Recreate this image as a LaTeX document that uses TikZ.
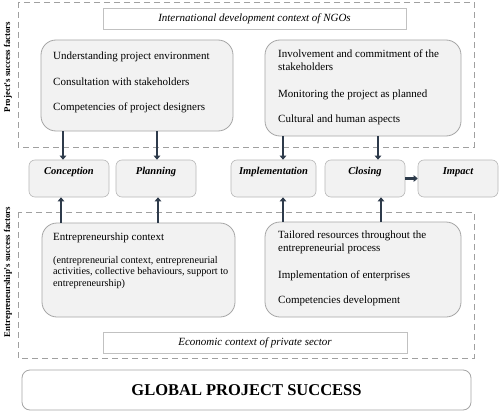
\documentclass[tikz,border=0pt]{standalone}
\usepackage{fontspec}
\setmainfont{Liberation Serif}
\usetikzlibrary{arrows.meta}
\definecolor{boxfill}{HTML}{F2F2F2}
\definecolor{boxline}{HTML}{A6A6A6}
\definecolor{dashline}{HTML}{A0A0A0}
\definecolor{arrowcol}{HTML}{2E3B4B}
\begin{document}
\begin{tikzpicture}[x=1pt,y=-1pt,
  zone/.style={draw=dashline,line width=0.9pt,dash pattern=on 6pt off 4pt},
  titlebox/.style={draw=boxline!70,fill=white,line width=0.6pt,minimum width=#1,minimum height=21pt,inner sep=0pt,font=\fontsize{11}{13}\selectfont\itshape},
  factorbox/.style={draw=boxline,fill=boxfill,rounded corners=15pt,line width=0.8pt,inner sep=0pt},
  phasebox/.style={draw=boxline!80,fill=boxfill,rounded corners=6pt,line width=0.6pt,minimum height=37pt,minimum width=#1,inner sep=0pt},
  phasetext/.style={font=\fontsize{10.5}{12}\selectfont\bfseries\itshape,inner sep=0pt},
  item/.style={anchor=west,inner sep=0pt,font=\fontsize{11}{13}\selectfont,align=left},
  small/.style={anchor=west,inner sep=0pt,font=\fontsize{10.2}{11.7}\selectfont,align=left},
  side/.style={rotate=90,font=\fontsize{8.8}{10}\selectfont\bfseries,inner sep=0pt},
  arr/.style={draw=arrowcol,line width=2.8pt,-{Triangle[length=4pt,width=6.5pt]}}
]
\useasboundingbox[fill=white] (0,0) rectangle (500,412);

% dashed zones
\draw[zone] (18,2) rectangle (474,147);
\draw[zone] (18,212) rectangle (474,358);

% side labels
\node[side] (sideP) at (8,67) {Project's success factors};
\node[side] (sideE) at (8,272) {Entrepreneurship's success factors};

% context title boxes
\node[titlebox=303pt] (ngo) at (254.5,18.5) {International development context of NGOs};
\node[titlebox=304pt] (eco) at (255,342.5) {Economic context of private sector};

% project factor boxes
\node[factorbox,minimum width=192pt,minimum height=91pt] (pl) at (137,85.5) {};
\node[item] (pl1) at (53,57) {Understanding project environment};
\node[item] (pl2) at (53,82) {Consultation with stakeholders};
\node[item] (pl3) at (53,107.5) {Competencies of project designers};

\node[factorbox,minimum width=196pt,minimum height=96pt] (pr) at (363,88) {};
\node[item,anchor=north west] (pr1) at (278,50) {Involvement and commitment of the\\stakeholders};
\node[item] (pr2) at (278,94.5) {Monitoring the project as planned};
\node[item] (pr3) at (278,119.5) {Cultural and human aspects};

% phase boxes
\node[phasebox=80pt] (con) at (69,178.5) {};
\node[phasetext] (conT) at ([yshift=6.5pt]con.center) {Conception};
\node[phasebox=80pt] (pla) at (156,178.5) {};
\node[phasetext] (plaT) at ([yshift=6.5pt]pla.center) {Planning};
\node[phasebox=85pt] (imp) at (273.5,178.5) {};
\node[phasetext] (impT) at ([yshift=6.5pt]imp.center) {Implementation};
\node[phasebox=80pt] (clo) at (365,178.5) {};
\node[phasetext] (cloT) at ([yshift=6.5pt]clo.center) {Closing};
\node[phasebox=80pt] (ipa) at (458,178.5) {};
\node[phasetext] (ipaT) at ([yshift=6.5pt]ipa.center) {Impact};

% entrepreneurship factor boxes
\node[factorbox,minimum width=193pt,minimum height=94pt] (el) at (138.5,270) {};
\node[item] (el1) at (53,237.5) {Entrepreneurship context};
\node[small,anchor=north west] (el2) at (53,256) {(entrepreneurial context, entrepreneurial\\activities, collective behaviours, support to\\entrepreneurship)};

\node[factorbox,minimum width=196pt,minimum height=95pt] (er) at (363,269.5) {};
\node[item,anchor=north west] (er1) at (278,231) {Tailored resources throughout the\\entrepreneurial process};
\node[item] (er2) at (278,275.5) {Implementation of enterprises};
\node[item] (er3) at (278,300.5) {Competencies development};

% global
\node[draw=boxline,fill=white,rounded corners=8pt,line width=0.8pt,minimum width=449pt,minimum height=40pt,inner sep=0pt,font=\fontsize{16.5}{18}\selectfont\bfseries] (glob) at (246.5,390) {GLOBAL PROJECT SUCCESS};

% arrows top -> phases
\draw[arr] (pl.south -| 63,0) -- (con.north -| 63,0);
\draw[arr] (pl.south -| 157,0) -- (pla.north -| 157,0);
\draw[arr] (pr.south -| 283,0) -- (imp.north -| 283,0);
\draw[arr] (pr.south -| 378,0) -- (clo.north -| 378,0);
% arrows bottom -> phases
\draw[arr] (el.north -| 61,0) -- (con.south -| 61,0);
\draw[arr] (el.north -| 158,0) -- (pla.south -| 158,0);
\draw[arr] (er.north -| 283,0) -- (imp.south -| 283,0);
\draw[arr] (er.north -| 381,0) -- (clo.south -| 381,0);
% closing -> impact
\draw[arr,line width=2.2pt] (clo.east) -- (ipa.west);
\end{tikzpicture}
\end{document}
